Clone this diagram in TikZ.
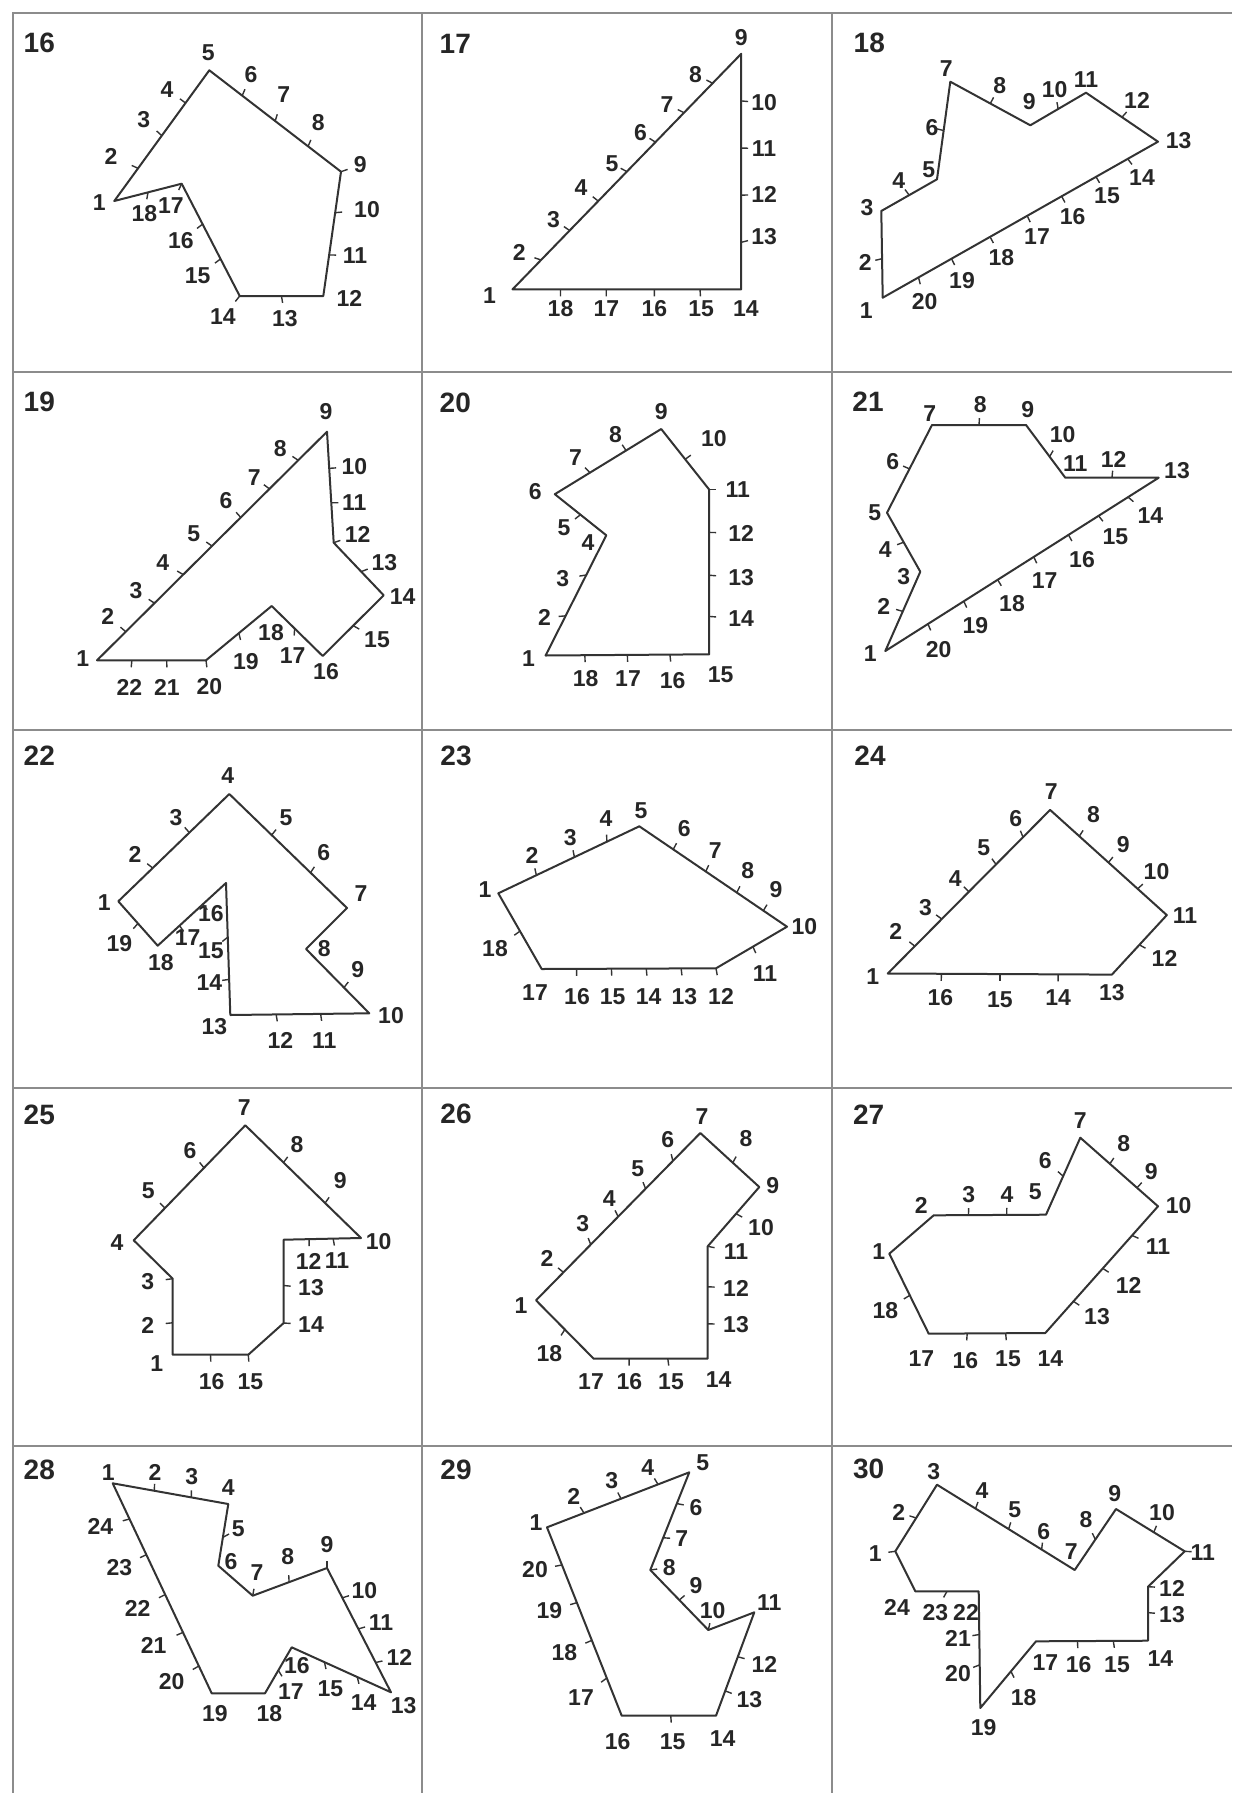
\documentclass[tikz,border=0pt]{standalone}
\usepackage{fontspec}
\setmainfont{Liberation Sans}
\usetikzlibrary{calc}
\tikzset{
  side/.style={line width=1pt, black!80, line join=round},
  tick/.style={line width=.7pt, black!80},
  num/.style={font=\bfseries\fontsize{11.5}{12}\selectfont, text=black!85, inner sep=0pt},
  fig/.style={font=\bfseries\fontsize{14}{15}\selectfont, text=black!85, inner sep=0pt},
  frame/.style={line width=1.4pt, black!45}
}
\begin{document}
\begin{tikzpicture}[x=.5pt, y=-.5pt]
\useasboundingbox (0,0) rectangle (1232,1793);
\draw[frame] (13,1793) -- (13,13) -- (1232,13);
\foreach \x in {422,832} \draw[frame] (\x,13) -- (\x,1793);
\foreach \y in {372,730,1088,1446} \draw[frame] (13,\y) -- (1232,\y);

% 16
\begin{scope}[shift={(11,11)}, name prefix=p16-]
  \node[fig] (t) at (28.3,31.7) {16};
  \foreach \n/\x/\y in {1/88.3/191.7, 2/100/145, 3/132.7/108.3, 4/156/78.3, 5/197.3/41.7, 6/240/64, 7/272.7/83.3, 8/307.3/111.7, 9/349.3/154, 10/356/198.7, 11/344/244.3, 12/338.3/287.7, 13/274/307.3, 14/212/306, 15/186.7/265, 16/170/230, 17/160/195, 18/133.3/202.7}
    \node[num] (n\n) at (\x,\y) {\n};
  \foreach \n/\x/\y in {1/103.3/190, 5/198.3/59.3, 9/330/160.7, 12/312.3/285, 14/228.7/285, 17/170.7/172.7}
    \coordinate (a\n) at (\x,\y);
  \draw[side] (a1) -- (a5) -- (a9) -- (a12) -- (a14) -- (a17) -- cycle;
  \foreach \n/\ia/\ib/\w in {2/1/5/.25, 3/1/5/.5, 4/1/5/.75, 6/5/9/.25, 7/5/9/.5, 8/5/9/.75, 9/9/12/0, 10/9/12/.33, 11/9/12/.67, 13/12/14/.5, 14/14/17/0, 15/14/17/.33, 16/14/17/.64, 17/17/1/0, 18/17/1/.5}
  {
    \coordinate (a\n) at ($(a\ia)!\w!(a\ib)$);
    \draw[tick] (a\n) -- ($(a\n)!3.5pt!(n\n)$);
  }
\end{scope}

% 17
\begin{scope}[shift={(421,11)}, name prefix=p17-]
  \node[fig] (t) at (34.3,32.5) {17};
  \foreach \n/\x/\y in {1/68.6/284.1, 2/98.3/241.8, 3/132.6/208.6, 4/160.1/176.6, 5/191/152.6, 6/219.6/121.7, 7/245.9/93.1, 8/274.5/63.4, 9/320.2/26.7, 10/343.1/92, 11/343.1/137.7, 12/343.1/183.5, 13/343.1/225.8, 14/324.8/297.9, 15/280.2/297.9, 16/233.3/297.9, 17/185.3/297.9, 18/139.5/297.9}
    \node[num] (n\n) at (\x,\y) {\n};
  \foreach \n/\x/\y in {1/91.5/278.4, 9/320.2/42.8, 14/320.2/278.4}
    \coordinate (a\n) at (\x,\y);
  \draw[side] (a1) -- (a9) -- (a14) -- cycle;
  \foreach \n/\ia/\ib/\w in {2/1/9/.125, 3/1/9/.25, 4/1/9/.375, 5/1/9/.5, 6/1/9/.625, 7/1/9/.75, 8/1/9/.875, 10/9/14/.2, 11/9/14/.4, 12/9/14/.6, 13/9/14/.8, 15/14/1/.18, 16/14/1/.38, 17/14/1/.59, 18/14/1/.79}
  {
    \coordinate (a\n) at ($(a\ia)!\w!(a\ib)$);
    \draw[tick] (a\n) -- ($(a\n)!3.5pt!(n\n)$);
  }
\end{scope}

% 18
\begin{scope}[shift={(832,11)}, name prefix=p18-]
  \node[fig] (t) at (37.3,31.7) {18};
  \foreach \n/\x/\y in {1/34.3/300, 2/33.3/251.7, 3/35/196.7, 4/66.7/170, 5/96.7/158.3, 6/100/116.7, 7/114.3/57.3, 8/167.7/75, 9/197.3/90.7, 10/222.7/78.3, 11/254/68.3, 12/305/89.3, 13/346.7/129.3, 14/310/166.7, 15/275/185, 16/240.7/206, 17/205/226, 18/169.3/246.7, 19/130/269.3, 20/92.7/290.7}
    \node[num] (n\n) at (\x,\y) {\n};
  \foreach \n/\x/\y in {1/50.7/286.7, 3/49.3/200, 5/105/168.3, 7/118.3/70.7, 9/198.3/114.3, 11/254/81.7, 13/326/130.7}
    \coordinate (a\n) at (\x,\y);
  \draw[side] (a1) -- (a3) -- (a5) -- (a7) -- (a9) -- (a11) -- (a13) -- cycle;
  \foreach \n/\ia/\ib/\w in {2/1/3/.45, 4/3/5/.5, 6/5/7/.5, 8/7/9/.5, 10/9/11/.5, 12/11/13/.5, 14/13/1/.11, 15/13/1/.225, 16/13/1/.35, 17/13/1/.475, 18/13/1/.61, 19/13/1/.75, 20/13/1/.87}
  {
    \coordinate (a\n) at ($(a\ia)!\w!(a\ib)$);
    \draw[tick] (a\n) -- ($(a\n)!3.5pt!(n\n)$);
  }
\end{scope}

% 19
\begin{scope}[shift={(11,371)}, name prefix=p19-]
  \node[fig] (t) at (28.3,30.7) {19};
  \foreach \n/\x/\y in {1/71.7/287.3, 2/96.7/245, 3/125/220, 4/151.7/191.7, 5/182.7/162.3, 6/215/130, 7/243.3/106.7, 8/269.3/77.3, 9/315/40.7, 10/343.3/95.7, 11/343.3/131.7, 12/346.7/163.3, 13/373.3/191.7, 14/391.7/226, 15/366/268.3, 16/315/301, 17/281.7/285, 18/260/261.7, 19/235/291, 20/198.3/316, 21/156/316, 22/118.3/316}
    \node[num] (n\n) at (\x,\y) {\n};
  \foreach \n/\x/\y in {1/86/289.3, 9/316/60.7, 12/322.7/171.7, 14/372.7/224.3, 16/311.7/285, 18/260.7/235, 20/195/289.3}
    \coordinate (a\n) at (\x,\y);
  \draw[side] (a1) -- (a9) -- (a12) -- (a14) -- (a16) -- (a18) -- (a20) -- cycle;
  \foreach \n/\ia/\ib/\w in {2/1/9/.125, 3/1/9/.25, 4/1/9/.375, 5/1/9/.5, 6/1/9/.625, 7/1/9/.75, 8/1/9/.875, 10/9/12/.33, 11/9/12/.64, 12/12/14/0, 13/12/14/.55, 15/14/16/.5, 17/16/18/.55, 19/18/20/.5, 20/20/1/0, 21/20/1/.36, 22/20/1/.68}
  {
    \coordinate (a\n) at ($(a\ia)!\w!(a\ib)$);
    \draw[tick] (a\n) -- ($(a\n)!3.5pt!(n\n)$);
  }
\end{scope}

% 20
\begin{scope}[shift={(421,371)}, name prefix=p20-]
  \node[fig] (t) at (34.3,31.7) {20};
  \foreach \n/\x/\y in {1/107.5/287.9, 2/123.5/246.7, 3/141.8/207.8, 4/167/171.2, 5/142.9/156.3, 6/114.3/120.9, 7/154.4/86.6, 8/194.4/63.7, 9/240.2/40.8, 10/292.8/67.1, 11/316.8/118.6, 12/320.2/162.1, 13/320.2/206.7, 14/320.2/247.9, 15/299.7/303.9, 16/251.6/309.6, 17/207/307.3, 18/164.7/307.3}
    \node[num] (n\n) at (\x,\y) {\n};
  \foreach \n/\x/\y in {1/124.6/284.5, 4/185.3/164.3, 6/133.8/123.2, 9/240.2/58, 11/288.2/118.6, 15/288.2/283.3}
    \coordinate (a\n) at (\x,\y);
  \draw[side] (a1) -- (a4) -- (a6) -- (a9) -- (a11) -- (a15) -- cycle;
  \foreach \n/\ia/\ib/\w in {2/1/4/.33, 3/1/4/.67, 5/4/6/.5, 7/6/9/.33, 8/6/9/.67, 10/9/11/.5, 11/11/15/0, 12/11/15/.26, 13/11/15/.52, 14/11/15/.77, 16/15/1/.24, 17/15/1/.5, 18/15/1/.76}
  {
    \coordinate (a\n) at ($(a\ia)!\w!(a\ib)$);
    \draw[tick] (a\n) -- ($(a\n)!3.5pt!(n\n)$);
  }
\end{scope}

% 21
\begin{scope}[shift={(832,371)}, name prefix=p21-]
  \node[fig] (t) at (36,30.7) {21};
  \foreach \n/\x/\y in {1/38.3/282.7, 2/51.7/235, 3/71.7/205.7, 4/53.3/178.3, 5/42.7/141.7, 6/60.7/90.7, 7/97.7/42.7, 8/148.3/33.3, 9/195.7/38.3, 10/230.7/63.3, 11/243.3/92.7, 12/281.7/88.3, 13/345/99.3, 14/318.3/145, 15/283.3/165.7, 16/250/188.3, 17/212.7/209.3, 18/180/232.3, 19/143.3/255, 20/106.7/278.3}
    \node[num] (n\n) at (\x,\y) {\n};
  \foreach \n/\x/\y in {1/53.3/280, 3/88.3/200.7, 5/55/141.7, 7/100/54, 9/194/54, 11/233.3/106.7, 13/326.7/106.7}
    \coordinate (a\n) at (\x,\y);
  \draw[side] (a1) -- (a3) -- (a5) -- (a7) -- (a9) -- (a11) -- (a13) -- cycle;
  \foreach \n/\ia/\ib/\w in {2/1/3/.5, 4/3/5/.5, 6/5/7/.5, 8/7/9/.5, 10/9/11/.6, 12/11/13/.5, 14/13/1/.112, 15/13/1/.22, 16/13/1/.33, 17/13/1/.457, 18/13/1/.589, 19/13/1/.713, 20/13/1/.844}
  {
    \coordinate (a\n) at ($(a\ia)!\w!(a\ib)$);
    \draw[tick] (a\n) -- ($(a\n)!3.5pt!(n\n)$);
  }
\end{scope}

% 22
\begin{scope}[shift={(11,729)}, name prefix=p22-]
  \node[fig] (t) at (28.3,26.7) {22};
  \foreach \n/\x/\y in {1/93.3/174, 2/124/125, 3/165/88.3, 4/216.7/46.7, 5/275/88.3, 6/312.7/124, 7/350/165, 8/313.3/220, 9/346.7/240.7, 10/380/286.7, 11/313.3/311.7, 12/269.3/311.7, 13/203.3/297.7, 14/198.3/253.3, 15/200/221.7, 16/200/185, 17/176.7/208.3, 18/150/233.3, 19/108.3/215}
    \node[num] (n\n) at (\x,\y) {\n};
  \foreach \n/\x/\y in {1/107.3/172.3, 4/218.3/65, 7/336/179, 8/295/220, 10/358.3/284.3, 13/219.3/286, s/215/154, 18/146.7/216.7}
    \coordinate (a\n) at (\x,\y);
  \draw[side] (a1) -- (a4) -- (a7) -- (a8) -- (a10) -- (a13) -- (as) -- (a18) -- cycle;
  \foreach \n/\ia/\ib/\w in {2/1/4/.31, 3/1/4/.64, 5/4/7/.36, 6/4/7/.69, 9/8/10/.6, 11/10/13/.35, 12/10/13/.67, 14/13/s/.27, 15/13/s/.59, 16/s/18/.34, 17/s/18/.68, 19/18/1/.5}
  {
    \coordinate (a\n) at ($(a\ia)!\w!(a\ib)$);
    \draw[tick] (a\n) -- ($(a\n)!3.5pt!(n\n)$);
  }
\end{scope}

% 23
\begin{scope}[shift={(421,729)}, name prefix=p23-]
  \node[fig] (t) at (35,26.7) {23};
  \foreach \n/\x/\y in {1/64/160.7, 2/111/126.7, 3/149.3/108.3, 4/185/90, 5/220/81.7, 6/263.3/99.3, 7/294.3/121.7, 8/326.7/141.7, 9/355/160.7, 10/383.3/197.3, 11/344/245, 12/300/267.7, 13/263.3/267.7, 14/227.7/267.7, 15/191.7/267.7, 16/156/267.7, 17/114/263.3, 18/74/220}
    \node[num] (n\n) at (\x,\y) {\n};
  \foreach \n/\x/\y in {1/77.3/164.3, 5/218.3/97.3, 10/366/197.7, 12/295/239.3, 17/120.7/240}
    \coordinate (a\n) at (\x,\y);
  \draw[side] (a1) -- (a5) -- (a10) -- (a12) -- (a17) -- cycle;
  \foreach \n/\ia/\ib/\w in {2/1/5/.27, 3/1/5/.54, 4/1/5/.77, 6/5/10/.23, 7/5/10/.45, 8/5/10/.66, 9/5/10/.84, 11/10/12/.48, 12/12/17/0, 13/12/17/.2, 14/12/17/.4, 15/12/17/.6, 16/12/17/.8, 18/17/1/.5}
  {
    \coordinate (a\n) at ($(a\ia)!\w!(a\ib)$);
    \draw[tick] (a\n) -- ($(a\n)!3.5pt!(n\n)$);
  }
\end{scope}

% 24
\begin{scope}[shift={(832,729)}, name prefix=p24-]
  \node[fig] (t) at (38,27) {24};
  \foreach \n/\x/\y in {1/40.8/247.9, 2/63.7/202.1, 3/93.4/178.1, 4/123.2/149.5, 5/151.8/118.6, 6/183.8/90, 7/219.2/62.6, 8/261.6/85.5, 9/291.3/115.2, 10/324.5/142.7, 11/353.1/186.1, 12/332.5/229.6, 13/279.9/263.9, 14/226.1/268.5, 15/167.8/270.8, 16/108.3/268.5}
    \node[num] (n\n) at (\x,\y) {\n};
  \foreach \n/\x/\y in {1/55.7/244.5, 7/218.1/80.9, 11/334.8/186.1, 13/279.9/245.6}
    \coordinate (a\n) at (\x,\y);
  \draw[side] (a1) -- (a7) -- (a11) -- (a13) -- cycle;
  \foreach \n/\ia/\ib/\w in {2/1/7/.167, 3/1/7/.333, 4/1/7/.5, 5/1/7/.667, 6/1/7/.833, 8/7/11/.25, 9/7/11/.5, 10/7/11/.75, 12/11/13/.5, 14/13/1/.24, 15/13/1/.5, 16/13/1/.76}
  {
    \coordinate (a\n) at ($(a\ia)!\w!(a\ib)$);
    \draw[tick] (a\n) -- ($(a\n)!3.5pt!(n\n)$);
  }
\end{scope}

% 25
\begin{scope}[shift={(11,1087)}, name prefix=p25-]
  \node[fig] (t) at (28.3,28.3) {25};
  \foreach \n/\x/\y in {1/145.7/276.7, 2/136.7/238.3, 3/136.7/195, 4/106/156, 5/137.3/104, 6/179/63.3, 7/233.3/20.7, 8/286/57.3, 9/329.3/94, 10/367.7/155, 11/326/174, 12/297.7/174, 13/300/201, 14/300/237.7, 15/239.3/295, 16/200.7/295}
    \node[num] (n\n) at (\x,\y) {\n};
  \foreach \n/\x/\y in {1/161.7/267.7, 3/161.7/191.7, 4/122.7/153.3, 7/234.3/38.3, 10/350/151, c/272.7/152.7, 14/272.7/236, 15/237.3/267.7}
    \coordinate (a\n) at (\x,\y);
  \draw[side] (a1) -- (a3) -- (a4) -- (a7) -- (a10) -- (ac) -- (a14) -- (a15) -- cycle;
  \foreach \n/\ia/\ib/\w in {2/1/3/.42, 3/3/4/0, 5/4/7/.28, 6/4/7/.63, 8/7/10/.33, 9/7/10/.69, 11/10/c/.36, 12/10/c/.67, 13/c/14/.55, 14/14/15/0, 15/15/1/0, 16/15/1/.5}
  {
    \coordinate (a\n) at ($(a\ia)!\w!(a\ib)$);
    \draw[tick] (a\n) -- ($(a\n)!3.5pt!(n\n)$);
  }
\end{scope}

% 26
\begin{scope}[shift={(421,1087)}, name prefix=p26-]
  \node[fig] (t) at (35,26.7) {26};
  \foreach \n/\x/\y in {1/100/218.3, 2/126/171.7, 3/161.7/136.7, 4/188.3/111.7, 5/216.7/81.7, 6/246.7/52.7, 7/281/29.3, 8/325/51.7, 9/351.7/98.3, 10/340/140.7, 11/315/165, 12/315/201, 13/315/237.3, 14/297.7/292.7, 15/250/295, 16/208.3/295, 17/170/295, 18/128.3/266.7}
    \node[num] (n\n) at (\x,\y) {\n};
  \foreach \n/\x/\y in {1/115/213.3, 7/279.3/46, 9/338.3/100, 11/286.7/159.3, 14/286.7/271.7, 17/172.7/271.7}
    \coordinate (a\n) at (\x,\y);
  \draw[side] (a1) -- (a7) -- (a9) -- (a11) -- (a14) -- (a17) -- cycle;
  \foreach \n/\ia/\ib/\w in {2/1/7/.167, 3/1/7/.333, 4/1/7/.5, 5/1/7/.667, 6/1/7/.833, 8/7/9/.55, 10/9/11/.45, 11/11/14/0, 12/11/14/.36, 13/11/14/.69, 15/14/17/.35, 16/14/17/.69, 18/17/1/.5}
  {
    \coordinate (a\n) at ($(a\ia)!\w!(a\ib)$);
    \draw[tick] (a\n) -- ($(a\n)!3.5pt!(n\n)$);
  }
\end{scope}

% 27
\begin{scope}[shift={(832,1087)}, name prefix=p27-]
  \node[fig] (t) at (36.7,27.3) {27};
  \foreach \n/\x/\y in {1/46.7/165, 2/89.3/118.3, 3/136.7/107.3, 4/175/107.3, 5/203.3/105, 6/213.3/73.3, 7/248.3/33.3, 8/291.7/56.7, 9/319.3/85, 10/346.7/118.3, 11/326/160, 12/296.7/198.3, 13/265/230, 14/218.3/271.7, 15/176/271.7, 16/133.3/274, 17/89.3/271.7, 18/53.3/223.3}
    \node[num] (n\n) at (\x,\y) {\n};
  \foreach \n/\x/\y in {1/57.3/166.7, 2/101.7/128.3, 5/214/127.7, 7/248.3/50.7, 10/326/119.3, 14/213.3/246, 17/96.7/246.7}
    \coordinate (a\n) at (\x,\y);
  \draw[side] (a1) -- (a2) -- (a5) -- (a7) -- (a10) -- (a14) -- (a17) -- cycle;
  \foreach \n/\ia/\ib/\w in {3/2/5/.31, 4/2/5/.65, 6/5/7/.5, 8/7/10/.38, 9/7/10/.73, 11/10/14/.23, 12/10/14/.49, 13/10/14/.75, 15/14/17/.34, 16/14/17/.67, 18/17/1/.48}
  {
    \coordinate (a\n) at ($(a\ia)!\w!(a\ib)$);
    \draw[tick] (a\n) -- ($(a\n)!3.5pt!(n\n)$);
  }
\end{scope}

% 28
\begin{scope}[shift={(11,1444)}, name prefix=p28-]
  \node[fig] (t) at (28.3,26) {28};
  \foreach \n/\x/\y in {1/97.3/28.3, 2/144/28.3, 3/180.7/32.7, 4/217.3/44, 5/227.3/85, 6/220/117.3, 7/246/128.3, 8/276.7/112.7, 9/316/100.7, 10/353.3/146.7, 11/370/178.3, 12/388.3/213.3, 13/392.7/261.7, 14/352.7/258.3, 15/319.3/245, 16/286/221.7, 17/280/247.3, 18/258.3/270, 19/204/270, 20/160.7/237.7, 21/142.7/201, 22/126.7/164.3, 23/108.3/123.3, 24/89.3/82.7}
    \node[num] (n\n) at (\x,\y) {\n};
  \foreach \n/\x/\y in {1/101.7/39.3, 4/217.3/60, 6/207.3/121.7, 7/241.7/151.7, 9/316/124, 13/380/248.3, 16/280.7/203.3, 18/254/249.3, 19/200.7/249.3}
    \coordinate (a\n) at (\x,\y);
  \draw[side] (a1) -- (a4) -- (a6) -- (a7) -- (a9) -- (a13) -- (a16) -- (a18) -- (a19) -- cycle;
  \foreach \n/\ia/\ib/\w in {2/1/4/.36, 3/1/4/.68, 5/4/6/.54, 7/7/9/0, 8/7/9/.49, 9/9/13/0, 10/9/13/.24, 11/9/13/.49, 12/9/13/.76, 14/13/16/.34, 15/13/16/.67, 17/16/18/.5, 20/19/1/.13, 21/19/1/.29, 22/19/1/.47, 23/19/1/.66, 24/19/1/.83}
  {
    \coordinate (a\n) at ($(a\ia)!\w!(a\ib)$);
    \draw[tick] (a\n) -- ($(a\n)!3.5pt!(n\n)$);
  }
\end{scope}

% 29
\begin{scope}[shift={(421,1444)}, name prefix=p29-]
  \node[fig] (t) at (35,26) {29};
  \foreach \n/\x/\y in {1/115/78.3, 2/152.7/52.7, 3/190.7/36.7, 4/226.7/23.3, 5/281.7/18.3, 6/275/63.3, 7/260.7/95, 8/248.3/123.3, 9/275/141.7, 10/291.7/166.7, 11/348.3/158.3, 12/343.3/220, 13/328.3/256, 14/301.7/295, 15/251.7/297.7, 16/196.7/297.7, 17/160/253.3, 18/143.3/208.3, 19/128.3/166.7, 20/114/126}
    \node[num] (n\n) at (\x,\y) {\n};
  \foreach \n/\x/\y in {1/126/83.3, 5/268.3/28.3, 8/229.3/126, 10/287.3/186, 11/333.3/168.3, 14/295/271.7, 16/200.7/271.7}
    \coordinate (a\n) at (\x,\y);
  \draw[side] (a1) -- (a5) -- (a8) -- (a10) -- (a11) -- (a14) -- (a16) -- cycle;
  \foreach \n/\ia/\ib/\w in {2/1/5/.26, 3/1/5/.52, 4/1/5/.78, 6/5/8/.32, 7/5/8/.67, 8/8/10/0, 9/8/10/.5, 10/10/11/0, 12/11/14/.43, 13/11/14/.76, 15/14/16/.48, 17/16/1/.2, 18/16/1/.4, 19/16/1/.6, 20/16/1/.8}
  {
    \coordinate (a\n) at ($(a\ia)!\w!(a\ib)$);
    \draw[tick] (a\n) -- ($(a\n)!3.5pt!(n\n)$);
  }
\end{scope}

% 30
\begin{scope}[shift={(832,1444)}, name prefix=p30-]
  \node[fig] (t) at (36.7,25) {30};
  \foreach \n/\x/\y in {1/43.3/110, 2/66.7/68.3, 3/101.7/27.3, 4/150/46.7, 5/182.7/66, 6/211.7/87.3, 7/239.3/107.7, 8/254/76, 9/282.7/50, 10/330/68.3, 11/370.7/108.3, 12/340/144, 13/340/170.7, 14/328.3/215, 15/285/221, 16/246.7/221, 17/213.3/219, 18/191.7/253.3, 19/151.7/283.3, 20/126/229.3, 21/126/194, 22/134/168.3, 23/103.3/168.3, 24/65/163.3}
    \node[num] (n\n) at (\x,\y) {\n};
  \foreach \n/\x/\y in {1/63.3/107.3, 3/105/40.7, 7/242.7/126, 9/284/65, 11/352.7/107.3, 12/316/142.7, 14/316/196.7, 17/204/197.3, 19/148.3/264, 22/146.7/147.3, 24/83.3/147.3}
    \coordinate (a\n) at (\x,\y);
  \draw[side] (a1) -- (a3) -- (a7) -- (a9) -- (a11) -- (a12) -- (a14) -- (a17) -- (a19) -- (a22) -- (a24) -- cycle;
  \foreach \n/\ia/\ib/\w in {1/1/3/0, 2/1/3/.5, 4/3/7/.28, 5/3/7/.52, 6/3/7/.76, 8/7/9/.5, 10/9/11/.55, 11/11/12/0, 12/12/14/0, 13/12/14/.48, 15/14/17/.31, 16/14/17/.63, 18/17/19/.45, 20/19/22/.37, 21/19/22/.63, 23/22/24/.5}
  {
    \coordinate (a\n) at ($(a\ia)!\w!(a\ib)$);
    \draw[tick] (a\n) -- ($(a\n)!3.5pt!(n\n)$);
  }
\end{scope}
\end{tikzpicture}
\end{document}
